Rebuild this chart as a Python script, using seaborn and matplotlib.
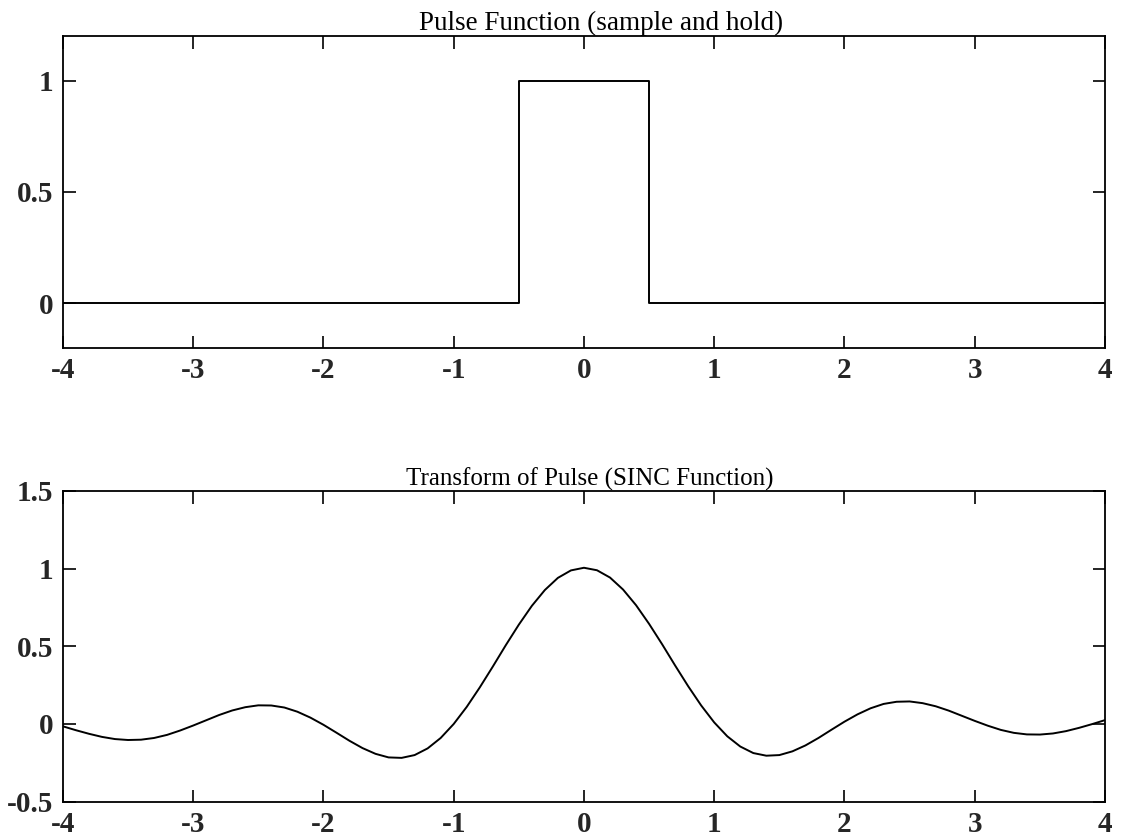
import numpy as np
import matplotlib
matplotlib.use("Agg")
import matplotlib.pyplot as plt
import seaborn as sns
import pandas as pd

# pulse (sample and hold) corner points
pulse_x = [-4.0, -0.5, -0.5, 0.5, 0.5, 4.0]
pulse_y = [0.0, 0.0, 1.0, 1.0, 0.0, 0.0]

# sinc curve every 0.1
sinc_x = [round(-4.0 + 0.1 * i, 1) for i in range(81)]
sinc_y = [-0.015, -0.040, -0.063, -0.083, -0.097, -0.103, -0.101, -0.090, -0.070, -0.042,
          -0.010, 0.024, 0.058, 0.087, 0.108, 0.120, 0.119, 0.106, 0.079, 0.041,
          -0.005, -0.056, -0.108, -0.155, -0.192, -0.215, -0.218, -0.200, -0.157, -0.090,
          0.000, 0.110, 0.235, 0.369, 0.507, 0.639, 0.760, 0.862, 0.940, 0.988,
          1.005, 0.989, 0.942, 0.865, 0.764, 0.644, 0.513, 0.376, 0.243, 0.119,
          0.010, -0.079, -0.145, -0.187, -0.204, -0.200, -0.176, -0.138, -0.090, -0.037,
          0.015, 0.062, 0.101, 0.129, 0.143, 0.145, 0.134, 0.114, 0.086, 0.053,
          0.020, -0.011, -0.038, -0.057, -0.067, -0.068, -0.061, -0.046, -0.025, -0.001,
          0.025]

xticks = [-4, -3, -2, -1, 0, 1, 2, 3, 4]
top_yticks = [0, 0.5, 1]
bottom_yticks = [-0.5, 0, 0.5, 1, 1.5]

sns.set_style("ticks")
plt.rcParams['font.family'] = ['Liberation Serif', 'DejaVu Serif']
plt.rcParams['xtick.direction'] = 'in'
plt.rcParams['ytick.direction'] = 'in'
plt.rcParams['xtick.top'] = True
plt.rcParams['ytick.right'] = True
plt.rcParams['axes.edgecolor'] = 'black'
plt.rcParams['axes.linewidth'] = 1.3

fig = plt.figure(figsize=(11.23, 8.38), dpi=100)
ax1 = fig.add_axes([0.056, 0.585, 0.928, 0.372])
ax2 = fig.add_axes([0.056, 0.0433, 0.928, 0.371])

pulse_df = pd.DataFrame({"x": pulse_x, "y": pulse_y})
sinc_df = pd.DataFrame({"x": sinc_x, "y": sinc_y})

sns.lineplot(data=pulse_df, x="x", y="y", ax=ax1, estimator=None, sort=False,
             color='black', linewidth=1.4)
sns.lineplot(data=sinc_df, x="x", y="y", ax=ax2, estimator=None, sort=False,
             color='black', linewidth=1.4)

def style_axis(ax, yticks, ylim, title, tsize, tx):
    ax.set_xlim(-4, 4)
    ax.set_ylim(*ylim)
    ax.set_xticks(xticks)
    ax.set_yticks(yticks)
    ax.set_xticklabels([str(t) for t in xticks], fontsize=21, fontweight='bold')
    ax.set_yticklabels([f"{t:g}" for t in yticks], fontsize=21, fontweight='bold')
    ax.tick_params(length=9, width=1.2, color='black', pad=7)
    ax.set_xlabel("")
    ax.set_ylabel("")
    ax.set_title(title, fontsize=tsize, pad=1, color='black', x=tx)

style_axis(ax1, top_yticks, (-0.2, 1.2), "Pulse Function (sample and hold)", 19.5, 0.516)
style_axis(ax2, bottom_yticks, (-0.5, 1.5), "Transform of Pulse (SINC Function)", 18, 0.506)

fig.savefig("out.png", dpi=100)
